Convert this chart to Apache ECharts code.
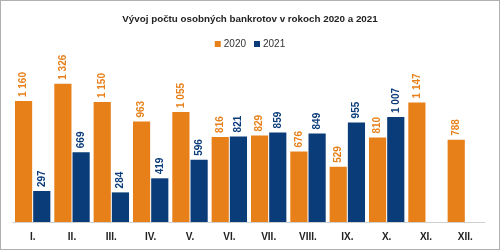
<!DOCTYPE html>
<html><head><meta charset="utf-8">
<script src="https://cdn.jsdelivr.net/npm/echarts@6/dist/echarts.min.js"></script>
<style>html,body{margin:0;padding:0;background:#fff}#c{width:500px;height:250px;box-sizing:border-box;border:1px solid #b0b0b0}</style>
</head><body><div id="c"></div>
<script>
const categories = ['I.','II.','III.','IV.','V.','VI.','VII.','VIII.','IX.','X.','XI.','XII.'];
const values2020 = [1160,1326,1150,963,1055,816,829,676,529,810,1147,788];
const values2021 = [297,669,284,419,596,821,859,849,955,1007,null,null];
const seriesNames = ['2020','2021'];
const fmt = v => { const s = String(v); return s.length > 3 ? s.slice(0, s.length-3) + ' ' + s.slice(-3) : s; };
const chart = echarts.init(document.getElementById('c'), null, {renderer:'canvas'});
const colors = ['#E8801A','#0B3C7A'];
const font = 'Liberation Sans';
function mk(name, data, color){
  return {name, type:'bar', data, itemStyle:{color}, barGap:'6%', barCategoryGap:'10%',
    label:{show:true, position:'top', rotate:90, align:'left', verticalAlign:'middle', distance:4,
      color, fontFamily:font, fontWeight:'bold', fontSize:10,
      formatter:p => p.value==null ? '' : fmt(p.value)}};
}
chart.setOption({
  animation:false,
  title:{text:'Vývoj počtu osobných bankrotov v rokoch 2020 a 2021', left:'center', top:8,
    textStyle:{fontFamily:font, fontSize:9.8, fontWeight:'bold', color:'#222'}},
  legend:{top:33, left:'center', itemWidth:6, itemHeight:6, itemGap:8, icon:'rect',
    textStyle:{fontFamily:font, fontSize:10, color:'#333', padding:[0,0,0,-2]}, data:seriesNames},
  grid:{left:12, right:14, top:75, bottom:27},
  xAxis:{type:'category', data:categories,
    axisLine:{lineStyle:{color:'#d0d0d0'}}, axisTick:{show:false},
    axisLabel:{fontFamily:font, fontWeight:'bold', fontSize:10, color:'#222', margin:10}},
  yAxis:{type:'value', min:0, max:1400, show:false, splitLine:{show:false}},
  series:[mk(seriesNames[0], values2020, colors[0]), mk(seriesNames[1], values2021, colors[1])]
});
</script></body></html>
